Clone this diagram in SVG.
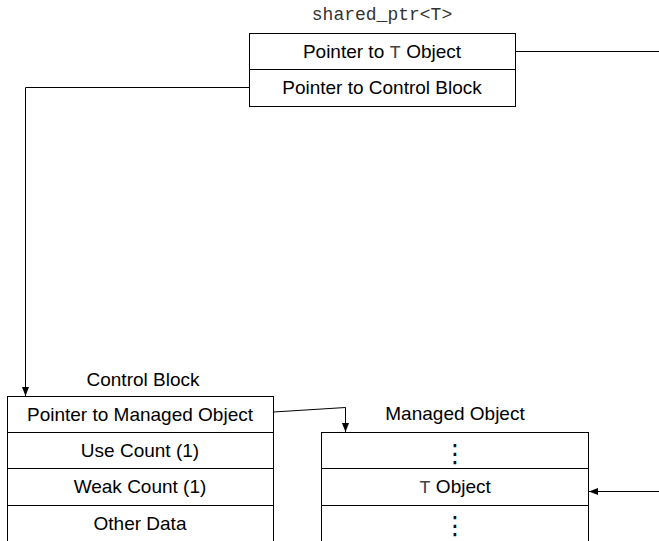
<svg xmlns="http://www.w3.org/2000/svg" width="659" height="541" viewBox="0 0 659 541">
<style>
.box{fill:#fff;stroke:#000;stroke-width:1}
.t{font-family:"Liberation Sans",Arial,sans-serif;font-size:19px;text-anchor:middle;fill:#000}
.m{font-family:"Liberation Mono","Courier New",monospace;fill:#444}
.lbl{font-size:18px;fill:#333}
.dots{font-family:"DejaVu Sans",sans-serif;font-size:25px;text-anchor:middle;fill:#111}
.c{fill:none;stroke:#000;stroke-width:1}
</style>
<defs>
<marker id="ah" markerWidth="10" markerHeight="10" refX="9" refY="5" orient="auto" markerUnits="userSpaceOnUse">
<path d="M0,1.5 L9,5 L0,8.5 Z" fill="#000"/>
</marker>
</defs>
<rect width="659" height="541" fill="#fff"/>
<g id="shared_ptr">
<text class="t m lbl" x="382" y="20">shared_ptr&lt;T&gt;</text>
<rect class="box" x="249.5" y="33.5" width="266" height="36"/>
<rect class="box" x="249.5" y="69.5" width="266" height="37"/>
<text class="t" x="382" y="58">Pointer to <tspan class="m">T</tspan> Object</text>
<text class="t" x="382" y="94">Pointer to Control Block</text>
</g>
<g id="control_block">
<text class="t" x="143" y="386">Control Block</text>
<rect class="box" x="7.5" y="396.5" width="266" height="36"/>
<rect class="box" x="7.5" y="432.5" width="266" height="36"/>
<rect class="box" x="7.5" y="468.5" width="266" height="37"/>
<rect class="box" x="7.5" y="505.5" width="266" height="40"/>
<text class="t" x="140" y="421">Pointer to Managed Object</text>
<text class="t" x="140" y="457">Use Count (1)</text>
<text class="t" x="140" y="493">Weak Count (1)</text>
<text class="t" x="140" y="530">Other Data</text>
</g>
<g id="managed_object">
<text class="t" x="455" y="420">Managed Object</text>
<rect class="box" x="321.5" y="432.5" width="267" height="36"/>
<rect class="box" x="321.5" y="468.5" width="267" height="37"/>
<rect class="box" x="321.5" y="505.5" width="267" height="40"/>
<text class="dots" x="455" y="462">⋮</text>
<text class="t" x="455" y="493"><tspan class="m">T</tspan> Object</text>
<text class="dots" x="455" y="534">⋮</text>
</g>
<g id="connectors">
<path class="c" d="M515.5,51.5 L659,51.5"/>
<path class="c" d="M249.5,87.5 L25.5,87.5 L25.5,396" marker-end="url(#ah)"/>
<path class="c" d="M273.5,412 L345.5,407.5 L345.5,432" marker-end="url(#ah)"/>
<path class="c" d="M659,491.5 L589,491.5" marker-end="url(#ah)"/>
</g>
</svg>
